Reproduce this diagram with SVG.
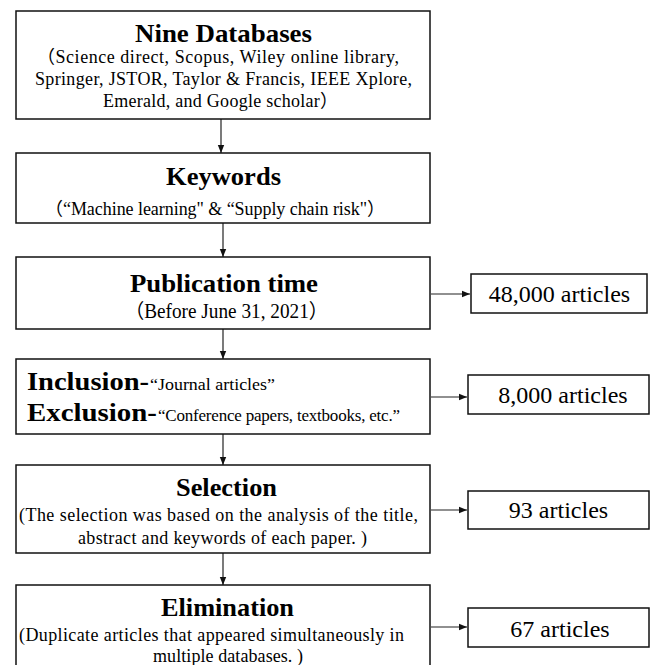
<svg xmlns="http://www.w3.org/2000/svg" width="655" height="665" viewBox="0 0 655 665">
<defs>
<marker id="ah" markerUnits="userSpaceOnUse" markerWidth="8" markerHeight="8" viewBox="0 0 8 8" refX="8" refY="4" orient="auto">
<path d="M0,0.8 L8,4 L0,7.2 z" fill="#111"/>
</marker>
</defs>
<style>
.box{fill:#fff;stroke:#111;stroke-width:1.5}
.t{font-family:"Liberation Serif","Times New Roman","Noto Sans CJK SC",serif;fill:#000}
.h{font-weight:bold;font-size:26px;text-anchor:middle}
.s{font-size:18px}
.n{font-size:24px;text-anchor:middle}
.c{stroke:#222;stroke-width:1.2;fill:none;marker-end:url(#ah)}
</style>
<rect width="655" height="665" fill="#fff"/>
<g id="connectors">
<line class="c" x1="221" y1="119" x2="221" y2="153"/>
<line class="c" x1="223" y1="223" x2="223" y2="257"/>
<line class="c" x1="223" y1="329" x2="223" y2="359"/>
<line class="c" x1="223" y1="434" x2="223" y2="465"/>
<line class="c" x1="223" y1="553" x2="223" y2="585"/>
<line class="c" x1="431" y1="294" x2="470" y2="294"/>
<line class="c" x1="431" y1="397" x2="467" y2="397"/>
<line class="c" x1="431" y1="510" x2="467" y2="510"/>
<line class="c" x1="431" y1="627" x2="467" y2="627"/>
</g>
<g id="databases">
<rect class="box" x="16" y="11" width="414" height="108"/>
<text class="t h" x="223.5" y="42" textLength="177" lengthAdjust="spacingAndGlyphs">Nine Databases</text>
<text class="t s" x="37" y="63" textLength="362" lengthAdjust="spacing">（Science direct, Scopus, Wiley online library,</text>
<text class="t s" x="35" y="85" textLength="377" lengthAdjust="spacing">Springer, JSTOR, Taylor &amp; Francis, IEEE Xplore,</text>
<text class="t s" x="103" y="107" textLength="235" lengthAdjust="spacing">Emerald, and Google scholar）</text>
</g>
<g id="keywords">
<rect class="box" x="16" y="153" width="414" height="70"/>
<text class="t h" x="223.5" y="185" textLength="115" lengthAdjust="spacingAndGlyphs">Keywords</text>
<text class="t s" x="45" y="215" textLength="340" lengthAdjust="spacing">（“Machine learning" &amp; “Supply chain risk"）</text>
</g>
<g id="publication">
<rect class="box" x="16" y="257" width="414" height="72"/>
<text class="t h" x="224" y="292" textLength="188" lengthAdjust="spacingAndGlyphs">Publication time</text>
<text class="t" x="125" y="318" font-size="20" textLength="203" lengthAdjust="spacingAndGlyphs">（Before June 31, 2021）</text>
</g>
<g id="inclusion">
<rect class="box" x="16" y="359" width="414" height="75"/>
<text class="t" x="27" y="390" font-size="25" font-weight="bold" textLength="122" lengthAdjust="spacingAndGlyphs">Inclusion-</text>
<text class="t" x="150" y="390" font-size="17" textLength="125" lengthAdjust="spacingAndGlyphs">“Journal  articles”</text>
<text class="t" x="27" y="421" font-size="25" font-weight="bold" textLength="130" lengthAdjust="spacingAndGlyphs">Exclusion-</text>
<text class="t" x="158" y="421" font-size="17" textLength="242" lengthAdjust="spacing">“Conference papers, textbooks, etc.”</text>
</g>
<g id="selection">
<rect class="box" x="16" y="465" width="414" height="88"/>
<text class="t h" x="226.5" y="496" textLength="101" lengthAdjust="spacingAndGlyphs">Selection</text>
<text class="t s" x="19" y="521" textLength="399" lengthAdjust="spacing">(The selection was based on the analysis of the title,</text>
<text class="t s" x="78" y="544" textLength="289" lengthAdjust="spacing">abstract and keywords of each paper. )</text>
</g>
<g id="elimination">
<rect class="box" x="16" y="585" width="414" height="90"/>
<text class="t h" x="227.5" y="616" textLength="133" lengthAdjust="spacingAndGlyphs">Elimination</text>
<text class="t s" x="19" y="641" textLength="385" lengthAdjust="spacing">(Duplicate articles that appeared simultaneously in</text>
<text class="t s" x="153" y="662" textLength="150" lengthAdjust="spacing">multiple databases. )</text>
</g>
<g id="n48000">
<rect class="box" x="471" y="274" width="176" height="39"/>
<text class="t n" x="559.5" y="302">48,000 articles</text>
</g>
<g id="n8000">
<rect class="box" x="468" y="375" width="181" height="39"/>
<text class="t n" x="563" y="403">8,000 articles</text>
</g>
<g id="n93">
<rect class="box" x="468" y="491" width="181" height="38"/>
<text class="t n" x="558.5" y="518">93 articles</text>
</g>
<g id="n67">
<rect class="box" x="468" y="608" width="181" height="39"/>
<text class="t n" x="560" y="637">67 articles</text>
</g>
</svg>
